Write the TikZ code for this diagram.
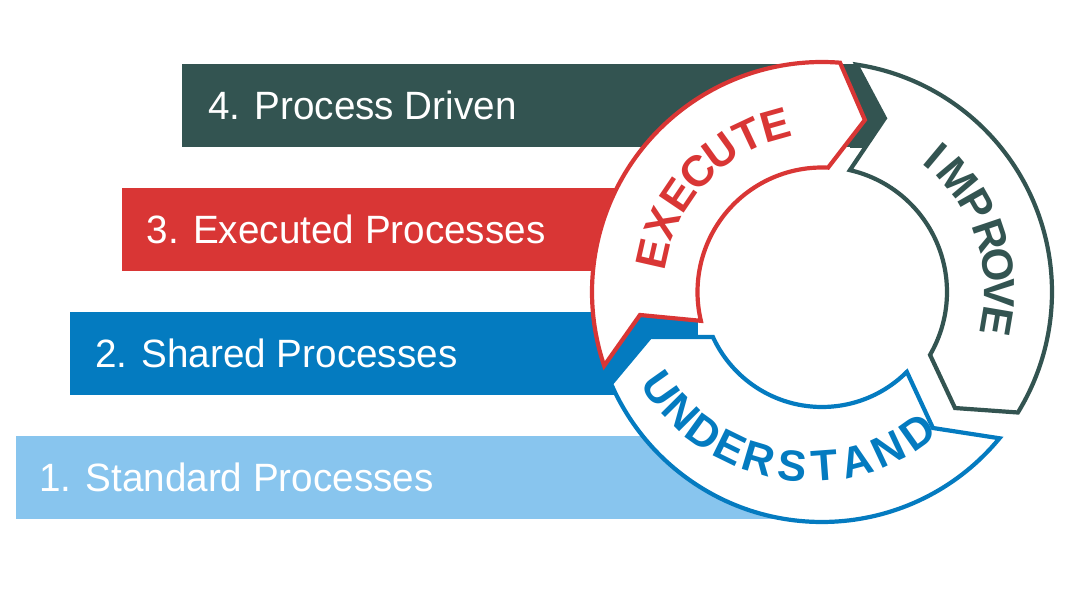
\documentclass[tikz,border=0pt]{standalone}
\usepackage{fontspec}
\setmainfont{Liberation Sans}
\newfontfamily\barfont{Liberation Sans}[FakeStretch=0.978]
\usetikzlibrary{calc}
\definecolor{cdark}{HTML}{335451}
\definecolor{cred}{HTML}{D93635}
\definecolor{cblue}{HTML}{047BC0}
\definecolor{clight}{HTML}{88C5EE}
\tikzset{
  bar/.style={draw=none, inner sep=0pt, anchor=south west, minimum height=83.7pt},
  barlabel/.style={anchor=base west, inner sep=0pt, text=white, font=\barfont\fontsize{39.5}{40}\selectfont},
  seg/.style={fill=white, line width=4.2pt, line join=miter},
  ringletter/.style={inner sep=0pt, text height=31pt, text depth=0pt, anchor=center, font=\fontsize{43.5}{44}\selectfont\bfseries},
}
\begin{document}
\begin{tikzpicture}[x=1pt,y=1pt]
\useasboundingbox (0,0) rectangle (1080,600);
% bars
\node[bar, fill=cdark,  minimum width=678pt] (bar4) at (182,452.3) {};
\begin{scope}
  \clip (822,308) circle (230);
  \fill[cdark] (850,452.3) rectangle (892,536);
\end{scope}
\node[bar, fill=cred,   minimum width=558pt] (bar3) at (122,328.3) {};
\node[bar, fill=cblue,  minimum width=628pt] (bar2) at (70,204.3) {};
\node[bar, fill=clight, minimum width=784pt] (bar1) at (16,80.3) {};
% ring segments
\begin{scope}[shift={(822,308)}]
  % EXECUTE
  \draw[seg, draw=cred] (198.7:230) arc[start angle=198.7, end angle=85.5, radius=230]
     -- (76:177.3) -- (87.2:124.5) arc[start angle=87.2, end angle=193.4, radius=124.5]
     -- (187.2:183.5) -- cycle;
  % IMPROVE
  \draw[seg, draw=cdark] (81.4:230) arc[start angle=81.4, end angle=-31.6, radius=230]
     -- (-41.1:176.5) -- (-30.2:125) arc[start angle=-30.2, end angle=77.1, radius=125]
     -- (70.1:184.8) -- cycle;
  % UNDERSTAND
  \draw[seg, draw=cblue] (-39.5:230) arc[start angle=-39.5, end angle=-156.5, radius=230]
     -- (194.7:177.8) -- ($(0,5)+(204.6:120)$) arc[start angle=204.6, end angle=315, radius=120]
     -- (-50.8:175.5) -- cycle;
  % letters
  \foreach \ch/\a [count=\i] in {E/167.2, X/156.6, E/146.0, C/136.0, U/125.8, T/115.2, E/105.7}
    \node[ringletter, text=cred, rotate=\a-90] (ex\i) at (\a:174) {\ch};
  \foreach \ch/\a [count=\i] in {I/50.1, M/40.1, P/29.6, R/18.6, O/8.6, V/-0.4, E/-9.6}
    \node[ringletter, text=cdark, rotate=\a-90] (im\i) at (\a:178) {\ch};
\end{scope}
\begin{scope}[shift={(811,317)}]
  \foreach \ch/\a [count=\i] in {U/215.2, N/224.8, D/234.3, E/243.9, R/253.4, S/264.2, T/274.2, A/284.6, N/295.1, D/305.4}
    \node[ringletter, text=cblue, rotate=\a+90] (un\i) at (\a:183) {\ch};
\end{scope}
% bar labels
\node[barlabel] (lab4) at (208,480) {4. Process Driven};
\node[barlabel] (lab3) at (146.5,356.5) {3. Executed Processes};
\node[barlabel] (lab2) at (95,232.5) {2. Shared Processes};
\node[barlabel] (lab1) at (39,108.5) {1. Standard Processes};
\end{tikzpicture}
\end{document}
